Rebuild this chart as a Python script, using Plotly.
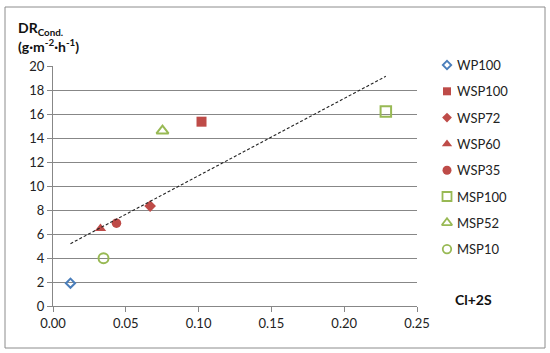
import numpy as np
import plotly.graph_objects as go

# ---- data ----
names = ["WP100", "WSP100", "WSP72", "WSP60", "WSP35", "MSP100", "MSP52", "MSP10"]
x_vals = [0.012, 0.102, 0.0667, 0.0326, 0.0436, 0.2286, 0.0752, 0.0347]
y_vals = [1.9, 15.36, 8.33, 6.45, 6.9, 16.2, 14.6, 3.97]
x_ticks = [0.00, 0.05, 0.10, 0.15, 0.20, 0.25]
y_ticks = [0, 2, 4, 6, 8, 10, 12, 14, 16, 18, 20]

# ---- styles ----
BLUE = "#4a7ebb"
RED = "#be4b48"
GREEN = "#98b954"
styles = {
    "WP100": dict(symbol="diamond-open", color=BLUE, size=7, lw=2, lsize=6.5),
    "WSP100": dict(symbol="square", color=RED, size=10, lw=0, lsize=8),
    "WSP72": dict(symbol="diamond", color=RED, size=9, lw=0, lsize=7.5),
    "WSP60": dict(symbol="triangle-up", color=RED, size=10, lw=0, lsize=9),
    "WSP35": dict(symbol="circle", color=RED, size=9.5, lw=0, lsize=9),
    "MSP100": dict(symbol="square-open", color=GREEN, size=10.5, lw=2, lsize=9),
    "MSP52": dict(symbol="triangle-up-open", color=GREEN, size=10.5, lw=2, lsize=9),
    "MSP10": dict(symbol="circle-open", color=GREEN, size=10, lw=2, lsize=8.5),
}

W, H = 550, 353
L, R, T, B = 53, 417, 66, 306  # plot area in px
LEG_X, LEG_TX, LEG_Y0, LEG_DY = 447, 455, 65, 26.3

FONT = "Lato, Carlito, 'Liberation Sans', sans-serif"
fig = go.Figure()

for i, n in enumerate(names):
    s = styles[n]
    fig.add_trace(go.Scatter(
        x=[x_vals[i]], y=[y_vals[i]], mode="markers", name=n, showlegend=False,
        marker=dict(symbol=s["symbol"], color=s["color"], size=s["size"],
                    line=dict(color=s["color"], width=s["lw"])),
    ))

# linear trendline fitted to all points
xa = np.array(x_vals)
ya = np.array(y_vals)
slope, intercept = np.polyfit(xa, ya, 1)
tx = np.array([xa.min(), xa.max()])
fig.add_trace(go.Scatter(
    x=tx, y=slope * tx + intercept, mode="lines", showlegend=False,
    line=dict(color="#222222", width=1.1, dash="3px,2px"), hoverinfo="skip",
))

# manual legend on a full-figure pixel overlay axis (x2/y2)
annotations = []
for i, n in enumerate(names):
    s = styles[n]
    yy = LEG_Y0 + LEG_DY * i
    fig.add_trace(go.Scatter(
        x=[LEG_X], y=[yy], mode="markers", showlegend=False,
        xaxis="x2", yaxis="y2", hoverinfo="skip",
        marker=dict(symbol=s["symbol"], color=s["color"], size=s["lsize"],
                    line=dict(color=s["color"], width=s["lw"] * 0.9)),
    ))
    annotations.append(dict(
        text=n, xref="x2", yref="y2", x=LEG_TX, y=yy,
        xanchor="left", yanchor="middle", showarrow=False,
        font=dict(size=13, color="#222222"),
    ))

annotations += [
    dict(text="<b>DR<sub>Cond.</sub></b>", xref="x2", yref="y2",
         x=16, y=28, xanchor="left", yanchor="middle",
         showarrow=False, font=dict(size=14, color="#111111")),
    dict(text="<b>(g·m<sup>-2</sup>·h<sup>-1</sup>)</b>", xref="x2", yref="y2",
         x=16, y=45, xanchor="left", yanchor="middle",
         showarrow=False, font=dict(size=14, color="#111111")),
    dict(text="<b>Cl+2S</b>", xref="x2", yref="y2",
         x=473, y=299, xanchor="center", yanchor="middle",
         showarrow=False, font=dict(size=14, color="#111111")),
]

fig.update_layout(
    width=W, height=H,
    margin=dict(l=0, r=0, t=0, b=0),
    paper_bgcolor="white", plot_bgcolor="rgba(0,0,0,0)",
    font=dict(family=FONT, size=13, color="#222222"),
    showlegend=False,
    xaxis=dict(
        domain=[L / W, R / W], automargin=False,
        range=[0, 0.25], tickvals=x_ticks, tickformat=".2f",
        showgrid=False, showline=True, linecolor="#878787", linewidth=1,
        ticks="outside", ticklen=5, tickcolor="#878787",
        zeroline=False, tickfont=dict(size=13),
    ),
    yaxis=dict(
        domain=[(H - B) / H, (H - T) / H], automargin=False,
        range=[0, 20], tickvals=y_ticks,
        showgrid=True, gridcolor="#878787", gridwidth=1,
        showline=True, linecolor="#878787", linewidth=1,
        ticks="outside", ticklen=5, tickcolor="#878787",
        zeroline=False, tickfont=dict(size=13),
    ),
    xaxis2=dict(domain=[0, 1], anchor="y2", range=[0, W], visible=False,
                fixedrange=True),
    yaxis2=dict(domain=[0, 1], anchor="x2", range=[H, 0], visible=False,
                fixedrange=True),
    shapes=[dict(
        type="rect", xref="x2", yref="y2",
        x0=5, x1=545, y0=7, y1=348,
        line=dict(color="#8c8c8c", width=1), fillcolor="rgba(0,0,0,0)",
    )],
    annotations=annotations,
)

fig.write_html("out.html", config={"displayModeBar": False},
               post_script="document.body.style.margin='0';document.body.style.overflow='hidden';")
